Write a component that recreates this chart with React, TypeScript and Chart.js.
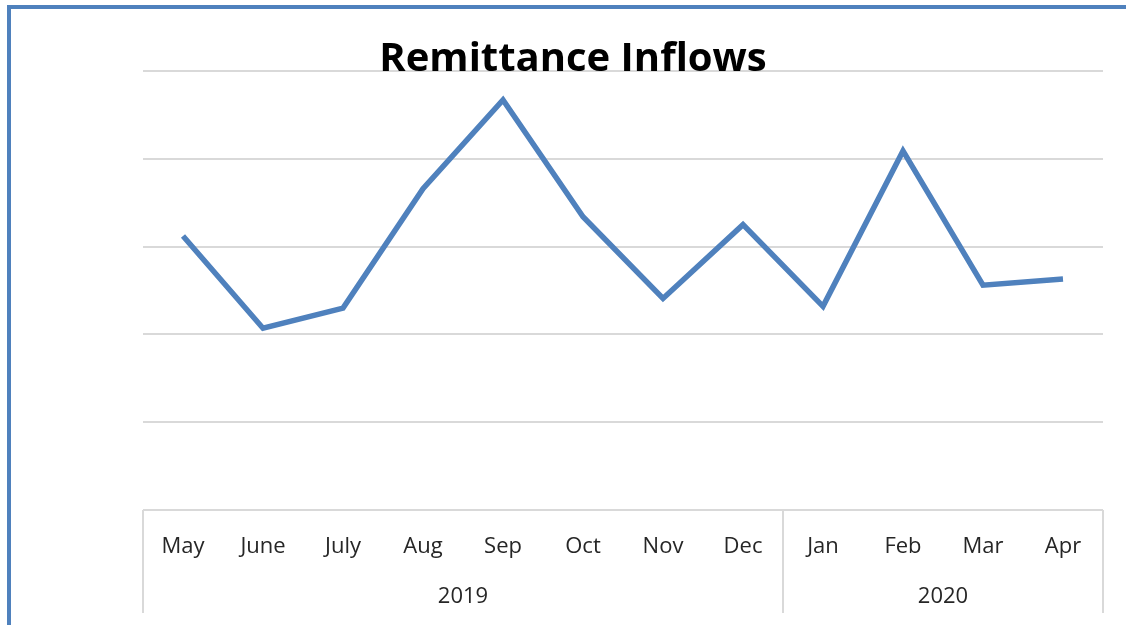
import React, { useEffect, useRef } from "react";
import { Chart, registerables } from "chart.js";

Chart.register(...registerables);

const months = ["May", "June", "July", "Aug", "Sep", "Oct", "Nov", "Dec", "Jan", "Feb", "Mar", "Apr"];
const years = ["2019", "2020"];
const yearSpans = [8, 4];
const inflows = [3.12, 2.07, 2.3, 3.66, 4.67, 3.34, 2.41, 3.25, 2.32, 4.09, 2.56, 2.63];
const titleText = "Remittance Inflows";

const W = 1126;
const H = 625;

const groupPlugin = {
  id: "groupAxis",
  afterDraw(chart: any) {
    const ctx = chart.ctx;
    const x = chart.scales.x;
    const area = chart.chartArea;
    const step = (area.right - area.left) / months.length;
    ctx.save();
    ctx.strokeStyle = "#d9d9d9";
    ctx.lineWidth = 2;
    ctx.beginPath();
    ctx.moveTo(area.left, area.bottom);
    ctx.lineTo(area.right, area.bottom);
    ctx.stroke();
    let idx = 0;
    const bounds = [x.getPixelForValue(0) - step / 2];
    yearSpans.forEach((n) => {
      idx += n;
      bounds.push(x.getPixelForValue(idx - 1) + step / 2);
    });
    bounds.forEach((b) => {
      ctx.beginPath();
      ctx.moveTo(b, area.bottom);
      ctx.lineTo(b, 613);
      ctx.stroke();
    });
    ctx.fillStyle = "#262626";
    ctx.font = "22px 'Open Sans'";
    ctx.textAlign = "center";
    ctx.textBaseline = "middle";
    years.forEach((yr, i) => {
      ctx.fillText(yr, (bounds[i] + bounds[i + 1]) / 2, 597);
    });
    ctx.fillStyle = "#000000";
    ctx.font = "bold 40px 'Open Sans'";
    ctx.fillText(titleText, 573, 60);
    ctx.restore();
  },
};

export default function App() {
  const ref = useRef<HTMLCanvasElement>(null);
  useEffect(() => {
    if (!ref.current) return;
    const chart = new Chart(ref.current, {
      type: "line",
      data: {
        labels: months,
        datasets: [
          {
            data: inflows,
            borderColor: "#4f81bd",
            borderWidth: 5.5,
            pointRadius: 0,
            tension: 0,
            fill: false,
          },
        ],
      },
      options: {
        animation: false,
        responsive: false,
        layout: { padding: { left: 143, right: 23, top: 71, bottom: 0 } },
        plugins: { legend: { display: false }, tooltip: { enabled: false }, title: { display: false } },
        scales: {
          x: {
            offset: true,
            grid: { display: false },
            border: { display: false },
            ticks: { color: "#262626", font: { family: "'Open Sans'", size: 22 }, padding: 16, maxRotation: 0, autoSkip: false },
            afterFit: (s: any) => {
              s.height = H - 510;
            },
          },
          y: {
            min: 0,
            max: 5,
            ticks: { display: false, stepSize: 1 },
            border: { display: false },
            grid: { color: "#d9d9d9", lineWidth: 2, drawTicks: false },
            afterFit: (s: any) => {
              s.width = 0;
            },
          },
        },
      },
      plugins: [groupPlugin],
    });
    return () => chart.destroy();
  }, []);
  return (
    <div style={{ position: "fixed", left: 0, top: 0, width: W, height: H, background: "#fff" }}>
      <canvas ref={ref} width={W} height={H} style={{ position: "absolute", left: 0, top: 0 }} />
      <div
        style={{
          position: "absolute",
          left: 7,
          top: 5,
          right: 0,
          bottom: 0,
          borderTop: "4px solid #4f81bd",
          borderLeft: "4px solid #4f81bd",
          pointerEvents: "none",
        }}
      />
    </div>
  );
}
